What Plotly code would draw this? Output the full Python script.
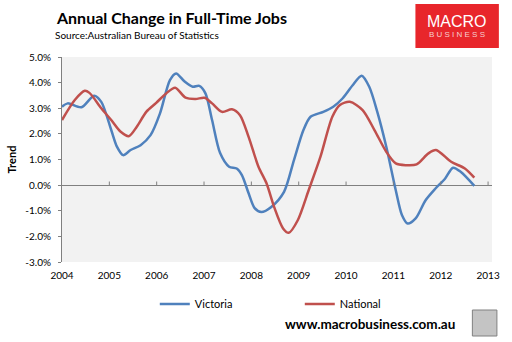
import plotly.graph_objects as go

# Victoria (decimal year, % change)
vic_x = [2004.00, 2004.12, 2004.41, 2004.68, 2004.83, 2005.04, 2005.16, 2005.29, 2005.45, 2005.66,
         2005.87, 2006.07, 2006.28, 2006.41, 2006.59, 2006.76, 2006.90, 2007.03, 2007.17, 2007.34,
         2007.53, 2007.69, 2007.80, 2007.94, 2008.07, 2008.21, 2008.42, 2008.69, 2008.90, 2009.10,
         2009.25, 2009.52, 2009.73, 2009.93, 2010.14, 2010.33, 2010.49, 2010.66, 2010.85, 2011.05,
         2011.18, 2011.30, 2011.47, 2011.68, 2011.88, 2012.09, 2012.26, 2012.42, 2012.71]
vic_y = [3.06, 3.19, 3.04, 3.49, 3.25, 2.15, 1.50, 1.17, 1.37, 1.56,
         1.95, 2.80, 4.10, 4.36, 4.04, 3.84, 3.87, 3.58, 2.54, 1.25,
         0.72, 0.65, 0.39, -0.31, -0.90, -1.05, -0.85, -0.26, 0.98, 2.15,
         2.67, 2.86, 3.06, 3.39, 3.90, 4.27, 3.84, 2.86, 1.50, -0.20,
         -1.17, -1.50, -1.30, -0.59, -0.15, 0.25, 0.68, 0.52, -0.03]

# National
nat_x = [2004.00, 2004.27, 2004.48, 2004.58, 2004.83, 2005.04, 2005.24, 2005.41, 2005.58, 2005.78,
         2005.99, 2006.20, 2006.39, 2006.61, 2006.82, 2007.01, 2007.17, 2007.38, 2007.59, 2007.76,
         2007.94, 2008.15, 2008.32, 2008.48, 2008.67, 2008.79, 2008.98, 2009.21, 2009.46, 2009.71,
         2009.87, 2010.08, 2010.35, 2010.60, 2010.85, 2011.05, 2011.26, 2011.49, 2011.74, 2011.90,
         2012.22, 2012.51, 2012.71]
nat_y = [2.54, 3.32, 3.68, 3.60, 3.00, 2.54, 2.08, 1.91, 2.28, 2.86,
         3.21, 3.58, 3.80, 3.41, 3.36, 3.41, 3.19, 2.86, 2.96, 2.73,
         1.89, 0.72, 0.07, -0.85, -1.69, -1.86, -1.37, -0.20, 1.11, 2.67,
         3.13, 3.25, 2.93, 2.15, 1.30, 0.85, 0.78, 0.81, 1.24, 1.37,
         0.91, 0.65, 0.29]

year_ticks = list(range(2004, 2014))
y_ticks = [-3, -2, -1, 0, 1, 2, 3, 4, 5]
y_tick_text = ["%.1f%%" % v for v in y_ticks]

FONT = "Lato"
BLUE = "#4F81BD"
RED = "#C0504D"
PX_PER_UNIT = 205 / 8.0

fig = go.Figure()
fig.add_trace(go.Scatter(x=vic_x, y=vic_y, name="Victoria", mode="lines",
                         line=dict(color=BLUE, width=2.5, shape="spline", smoothing=0.8)))
fig.add_trace(go.Scatter(x=nat_x, y=nat_y, name="National", mode="lines",
                         line=dict(color=RED, width=2.5, shape="spline", smoothing=0.8)))
# small tick marks sitting on the zero line (category axis crosses at 0)
fig.add_trace(go.Scatter(x=year_ticks[1:], y=[1.5 / PX_PER_UNIT] * (len(year_ticks) - 1),
                         mode="markers", showlegend=False, hoverinfo="skip",
                         marker=dict(symbol="line-ns", size=3,
                                     line=dict(color="#808080", width=1))))

fig.update_layout(
    width=512, height=342,
    margin=dict(l=57, r=17, t=57, b=80),
    paper_bgcolor="white", plot_bgcolor="#F2F2F2",
    font=dict(family=FONT, size=10, color="black"),
    xaxis=dict(range=[2004, 2013.083], tickvals=year_ticks, ticktext=[str(v) for v in year_ticks],
               showgrid=False, zeroline=False, showline=False, ticks="", ticklabelstandoff=6,
               tickfont=dict(size=10)),
    yaxis=dict(range=[-3, 5], tickvals=y_ticks, ticktext=y_tick_text,
               showgrid=False, zeroline=True, zerolinecolor="#808080", zerolinewidth=1,
               showline=True, linecolor="#808080", linewidth=1,
               ticks="outside", ticklen=3, tickcolor="#808080", ticklabelstandoff=5,
               title=dict(text="<b>Trend</b>", font=dict(size=11), standoff=6),
               tickfont=dict(size=10)),
    legend=dict(orientation="h", x=0.553, xanchor="center", y=-0.205, yanchor="middle",
                font=dict(size=11), entrywidth=100, itemwidth=30, bgcolor="rgba(0,0,0,0)"),
    showlegend=True,
)

# title and source
fig.add_annotation(text="<b>Annual Change in Full-Time Jobs</b>", xref="paper", yref="paper",
                   x=(49 - 57) / 438, y=1 + (57 - 17) / 205, xanchor="left", yanchor="middle",
                   showarrow=False, font=dict(family=FONT, size=16, color="black"))
fig.add_annotation(text="Source:Australian Bureau of Statistics", xref="paper", yref="paper",
                   x=(48 - 57) / 438, y=1 + (57 - 35) / 205, xanchor="left", yanchor="middle",
                   showarrow=False, font=dict(family=FONT, size=10, color="black"))

# logo box
fig.add_shape(type="rect", xref="paper", yref="paper",
              x0=(417 - 57) / 438, x1=(502 - 57) / 438,
              y0=1 + (57 - 48) / 205, y1=1 + (57 - 4) / 205,
              fillcolor="#E8262B", line=dict(width=0), layer="above")
fig.add_annotation(text="MACRO", xref="paper", yref="paper",
                   x=(459.5 - 57) / 438, y=1 + (57 - 21) / 205, xanchor="center", yanchor="middle",
                   showarrow=False, font=dict(family="Liberation Sans", size=16, color="white"))
fig.add_annotation(text="B U S I N E S S", xref="paper", yref="paper",
                   x=(459.5 - 57) / 438, y=1 + (57 - 35) / 205, xanchor="center", yanchor="middle",
                   showarrow=False, font=dict(family="Liberation Sans", size=8, color="#F6D0D0"))

# footer
fig.add_annotation(text="<b>www.macrobusiness.com.au</b>", xref="paper", yref="paper",
                   x=(371 - 57) / 438, y=(262 - 324) / 205, xanchor="center", yanchor="middle",
                   showarrow=False, font=dict(family=FONT, size=13.5, color="black"))
fig.add_shape(type="rect", xref="paper", yref="paper",
              x0=(475 - 57) / 438, x1=(500 - 57) / 438,
              y0=(262 - 336) / 205, y1=(262 - 310) / 205,
              fillcolor="#C4C4C4", line=dict(color="#808080", width=1))

fig.write_html("out.html")
